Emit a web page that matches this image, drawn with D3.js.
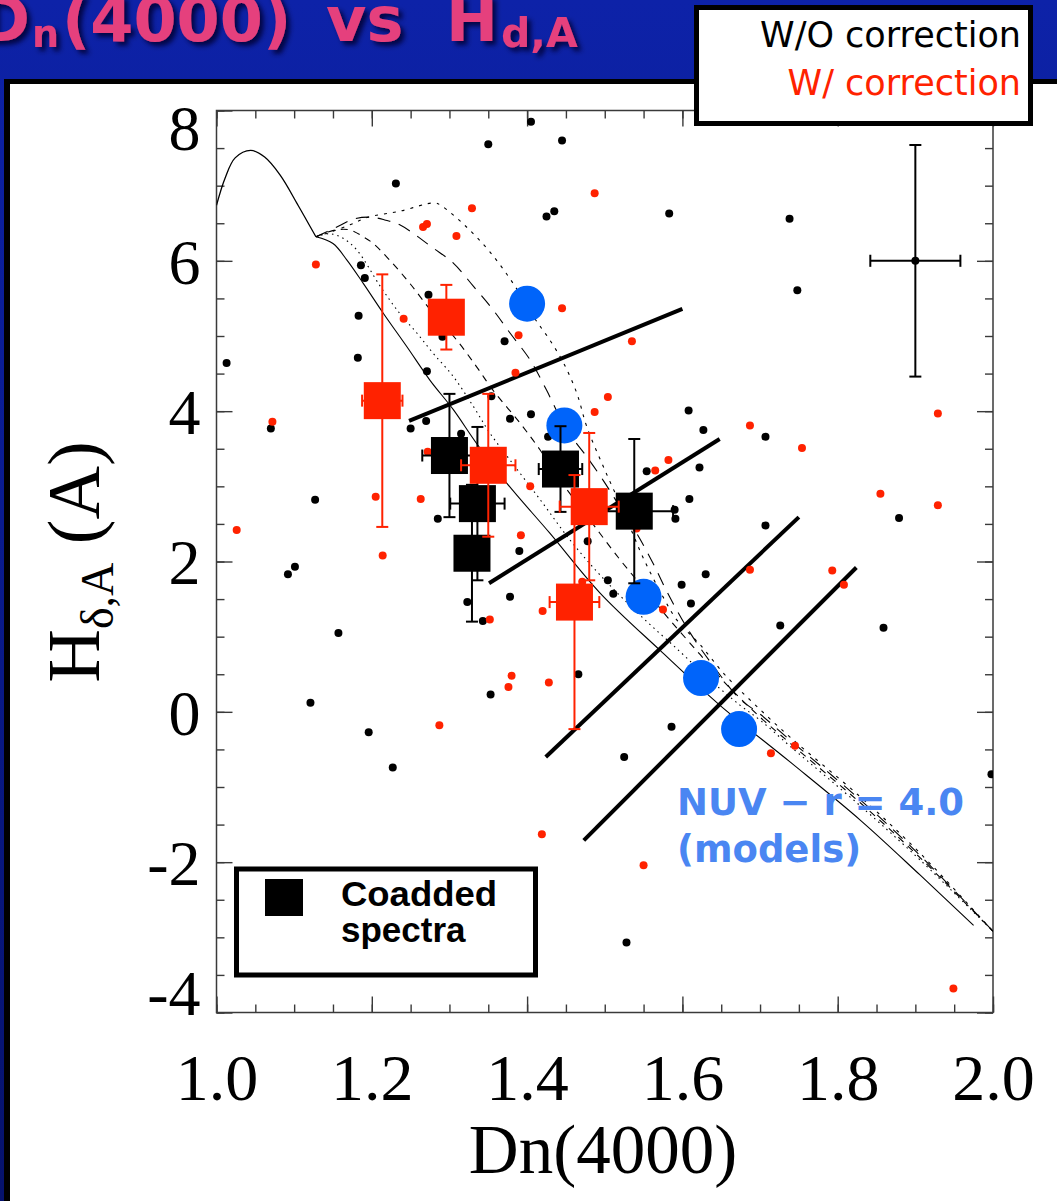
<!DOCTYPE html>
<html><head><meta charset="utf-8">
<script src="https://cdn.jsdelivr.net/npm/d3@7"></script>
<style>html,body{margin:0;padding:0;overflow:hidden;background:#0a1c9a}</style>
</head><body><svg id="c" width="1057" height="1201"></svg>
<script>
// ---------------- DATA ----------------
const xMajorTicks = [1.0, 1.2, 1.4, 1.6, 1.8, 2.0];
const yMajorTicks = [-4, -2, 0, 2, 4, 6, 8];

// individual galaxies, without correction (black)
const blackPoints = [
 [1.405,7.85],[1.350,7.55],[1.445,7.60],[1.231,7.03],[1.425,6.59],[1.435,6.66],[1.583,6.63],[1.738,6.56],
 [1.748,5.61],[1.186,5.94],[1.191,5.77],[1.273,5.55],[1.183,5.27],[1.291,4.99],[1.371,4.93],[1.013,4.64],
 [1.182,4.71],[1.271,4.53],[1.354,4.20],[1.070,3.77],[1.250,3.77],[1.270,3.87],[1.378,3.90],[1.405,3.96],
 [1.427,3.66],[1.315,3.70],[1.608,4.01],[1.627,3.75],[1.707,3.66],[1.127,2.82],[1.285,2.57],[1.478,2.27],
 [1.390,2.14],[1.101,1.93],[1.092,1.83],[1.378,1.53],[1.323,1.46],[1.343,1.21],[1.157,1.05],[1.466,0.50],
 [1.353,0.23],[1.121,0.12],[1.196,-0.27],[1.227,-0.74],[1.622,3.25],[1.554,3.20],[1.609,2.83],[1.590,2.69],
 [1.591,2.57],[1.707,2.48],[1.879,2.58],[1.630,1.83],[1.504,1.75],[1.599,1.69],[1.511,1.57],[1.611,1.44],
 [1.726,1.15],[1.859,1.12],[1.586,-0.20],[1.525,-0.60],[1.998,-0.83],[1.528,-3.07]
];
// individual galaxies, with correction (red)
const redPoints = [
 [1.487,6.90],[1.329,6.70],[1.266,6.45],[1.271,6.49],[1.309,6.33],[1.128,5.95],[1.241,5.23],[1.445,5.37],
 [1.389,5.01],[1.385,4.51],[1.072,3.86],[1.487,3.99],[1.535,4.93],[1.504,4.19],[1.687,3.81],[1.929,3.97],
 [1.754,3.51],[1.272,3.46],[1.205,2.86],[1.263,2.83],[1.404,3.00],[1.026,2.42],[1.392,2.35],[1.214,2.08],
 [1.471,1.73],[1.420,1.34],[1.352,1.23],[1.380,0.48],[1.376,0.33],[1.428,0.39],[1.287,-0.18],[1.582,3.35],
 [1.565,3.21],[1.855,2.90],[1.929,2.75],[1.541,2.44],[1.687,1.89],[1.793,1.88],[1.808,1.69],[1.575,1.36],
 [1.745,-0.45],[1.714,-0.55],[1.419,-1.63],[1.550,-2.04],[1.949,-3.68]
];
// NUV - r = 4.0 model points (blue)
const modelColourPoints = [[1.400,5.43],[1.448,3.81],[1.550,1.53],[1.624,0.45],[1.673,-0.23]];

// coadded spectra
const coaddBlack = [
 {dn:1.300, h:3.41, dnErr:0.035, hErr:0.82},
 {dn:1.336, h:2.77, dnErr:0.035, hErr:1.02},
 {dn:1.329, h:2.11, dnErr:0.020, hErr:0.91},
 {dn:1.443, h:3.23, dnErr:0.028, hErr:0.57},
 {dn:1.538, h:2.67, dnErr:0.050, hErr:0.96}
];
const coaddRed = [
 {dn:1.296, h:5.25, dnErr:0.015, hErr:0.43},
 {dn:1.2135,h:4.14, dnErr:0.026, hErr:1.68},
 {dn:1.350, h:3.28, dnErr:0.035, hErr:0.95},
 {dn:1.480, h:2.73, dnErr:0.038, hErr:0.98},
 {dn:1.461, h:1.46, dnErr:0.032, hErr:1.69}
];
// typical error bar
const typicalError = {dn:1.90, h:6.00, dnErr:0.058, hErr:1.54};

// thick lines of constant colour
const colourLines = [
 [[1.248,3.87],[1.600,5.36]],
 [[1.351,1.71],[1.648,3.63]],
 [[1.424,-0.60],[1.750,2.59]],
 [[1.473,-1.71],[1.824,1.92]]
];

// model tracks
const trackSSPYoung = [[1.000,6.74],[1.011,7.10],[1.024,7.37],[1.044,7.47],[1.062,7.38],[1.082,7.14],[1.105,6.74],[1.128,6.32]];
const trackSSP = [[1.128,6.32],[1.150,6.23],[1.168,6.01],[1.189,5.70],[1.215,5.30],[1.245,4.86],[1.275,4.41],[1.305,4.02],
 [1.335,3.57],[1.374,3.04],[1.429,2.38],[1.494,1.58],[1.571,0.82],[1.648,0.09],[1.739,-0.67],[1.829,-1.44],[1.906,-2.17],[1.975,-2.84]];
const trackA = [[1.128,6.32],[1.146,6.36],[1.163,6.30],[1.181,6.14],[1.211,5.66],[1.236,5.30],[1.258,5.04],[1.279,4.77],
 [1.305,4.46],[1.331,4.06],[1.352,3.71],[1.378,3.35],[1.417,2.82],[1.455,2.29],[1.494,1.82],[1.545,1.29],[1.597,0.80],
 [1.636,0.42],[1.674,0.09],[1.700,-0.11],[1.739,-0.46],[1.829,-1.25],[1.906,-1.97],[2.000,-2.92]];
const trackB = [[1.128,6.32],[1.153,6.41],[1.172,6.41],[1.189,6.32],[1.202,6.23],[1.223,6.01],[1.249,5.70],[1.279,5.30],
 [1.309,4.95],[1.335,4.59],[1.356,4.28],[1.391,3.84],[1.417,3.48],[1.442,3.09],[1.481,2.55],[1.520,2.02],[1.552,1.62],
 [1.584,1.22],[1.623,0.76],[1.660,0.33],[1.700,-0.07],[1.739,-0.42],[1.829,-1.21],[1.906,-1.94],[2.000,-2.92]];
const trackC = [[1.128,6.32],[1.153,6.44],[1.178,6.56],[1.200,6.58],[1.218,6.54],[1.236,6.48],[1.279,6.17],[1.305,5.97],
 [1.331,5.66],[1.356,5.35],[1.378,5.04],[1.404,4.68],[1.425,4.28],[1.451,3.75],[1.475,3.42],[1.498,3.08],[1.520,2.72],
 [1.542,2.36],[1.562,1.98],[1.582,1.56],[1.610,1.05],[1.642,0.58],[1.674,0.17],[1.700,-0.03],[1.739,-0.38],[1.829,-1.17],
 [1.906,-1.91],[2.000,-2.92]];
const trackD = [[1.128,6.32],[1.146,6.38],[1.172,6.48],[1.195,6.58],[1.236,6.66],[1.281,6.77],[1.290,6.73],[1.322,6.45],
 [1.352,6.12],[1.382,5.70],[1.408,5.26],[1.429,4.95],[1.447,4.64],[1.464,4.24],[1.477,3.79],[1.500,3.22],[1.526,2.62],
 [1.549,2.06],[1.575,1.53],[1.593,1.22],[1.623,0.89],[1.655,0.49],[1.690,0.13],[1.739,-0.34],[1.829,-1.13],[1.906,-1.88],[2.000,-2.92]];

// ---------------- DRAWING ----------------
const W = 1057, H = 1201;
const svg = d3.select('#c');
const defs = svg.append('defs');
const bg = defs.append('linearGradient').attr('id','bg').attr('x1',0).attr('y1',0).attr('x2',0).attr('y2',1);
bg.append('stop').attr('offset','0%').attr('stop-color','#0d22a8');
bg.append('stop').attr('offset','100%').attr('stop-color','#06126c');
const flt = defs.append('filter').attr('id','sh').attr('x','-20%').attr('y','-50%').attr('width','150%').attr('height','200%');
flt.append('feDropShadow').attr('dx',4).attr('dy',4).attr('stdDeviation',2.5).attr('flood-color','#000030').attr('flood-opacity',0.85);

svg.append('rect').attr('width',W).attr('height',H).attr('fill','url(#bg)');
svg.append('rect').attr('x',4).attr('y',79).attr('width',W).attr('height',H).attr('fill','#000');
svg.append('rect').attr('x',10).attr('y',84).attr('width',W).attr('height',H).attr('fill','#fff');

// title
const pink = '#e5407d';
const tg = svg.append('g').attr('filter','url(#sh)').attr('fill',pink)
  .style('font-family','"DejaVu Sans", Verdana, sans-serif').style('font-weight','bold');
tg.append('text').attr('x',30).attr('y',41).attr('text-anchor','end').style('font-size','62px').text('D');
tg.append('text').attr('x',32).attr('y',47).style('font-size','38px').text('n');
tg.append('text').attr('x',62).attr('y',41).style('font-size','62px').text('(4000)');
tg.append('text').attr('x',326).attr('y',41).style('font-size','62px').text('vs');
tg.append('text').attr('x',446).attr('y',41).style('font-size','62px').text('H');
tg.append('text').attr('x',501).attr('y',47).style('font-size','41px').text('d,A');

// scales
const x = d3.scaleLinear().domain([1,2]).range([216.5,993]);
const y = d3.scaleLinear().domain([-4,8]).range([1012.5,110.5]);
const minorX = d3.range(0,21).map(i=>+(1+i*0.05).toFixed(2));
const minorY = d3.range(0,25).map(i=>-4+i*0.5);

defs.append('clipPath').attr('id','clip').append('rect')
  .attr('x',x(1)).attr('y',y(8)).attr('width',x(2)-x(1)).attr('height',y(-4)-y(8));

const axCol = '#3a3a3a';
function tickAxis(axisFn, tx, ty, vals, size){
  const g = svg.append('g').attr('transform',`translate(${tx},${ty})`)
    .call(axisFn.tickValues(vals).tickSize(size).tickFormat(''));
  g.select('.domain').remove();
  g.selectAll('line').attr('stroke',axCol).attr('stroke-width',1.4);
}
tickAxis(d3.axisTop(x), 0, y(-4), minorX, 8);
tickAxis(d3.axisTop(x), 0, y(-4), xMajorTicks, 16);
tickAxis(d3.axisBottom(x), 0, y(8), minorX, 8);
tickAxis(d3.axisBottom(x), 0, y(8), xMajorTicks, 16);
tickAxis(d3.axisRight(y), x(1), 0, minorY, 8);
tickAxis(d3.axisRight(y), x(1), 0, yMajorTicks, 16);
tickAxis(d3.axisLeft(y), x(2), 0, minorY, 8);
tickAxis(d3.axisLeft(y), x(2), 0, yMajorTicks, 16);
svg.append('rect').attr('x',x(1)).attr('y',y(8)).attr('width',x(2)-x(1)).attr('height',y(-4)-y(8))
  .attr('fill','none').attr('stroke',axCol).attr('stroke-width',1.5);

// tick labels
const serif = '"Liberation Serif", "Times New Roman", serif';
const xl = svg.append('g').attr('transform',`translate(0,${y(-4)})`)
  .call(d3.axisBottom(x).tickValues(xMajorTicks).tickSize(0).tickPadding(41).tickFormat(d3.format('.1f')));
xl.select('.domain').remove();
xl.selectAll('text').style('font-family',serif).style('font-size','66px').attr('fill','#000');
const yl = svg.append('g').attr('transform',`translate(${x(1)},0)`)
  .call(d3.axisLeft(y).tickValues(yMajorTicks).tickSize(0).tickPadding(16).tickFormat(d=> d<0 ? '-'+(-d) : String(d)));
yl.select('.domain').remove();
yl.selectAll('text').style('font-family',serif).style('font-size','64px').attr('fill','#000')
  .attr('y', d=> d===8 ? 19 : (d===-4 ? -18 : 2));

// axis titles
svg.append('text').attr('x',603).attr('y',1173).attr('text-anchor','middle')
  .style('font-family',serif).style('font-size','69px').text('Dn(4000)');
const yt = svg.append('text').attr('transform','translate(99,562) rotate(-90)').attr('text-anchor','middle')
  .style('font-family',serif).style('font-size','74px');
yt.append('tspan').text('H');
yt.append('tspan').attr('dy',14).style('font-size','46px').text('δ,A');
yt.append('tspan').attr('dy',-14).text(' (A)');

// plot content
const plot = svg.append('g').attr('clip-path','url(#clip)');
const line = d3.line().x(d=>x(d[0])).y(d=>y(d[1])).curve(d3.curveCatmullRom.alpha(0.5));
const tracks = [
  {pts:trackSSPYoung, dash:null, w:1.3},
  {pts:trackSSP, dash:null, w:1.1},
  {pts:trackA, dash:'1.5,4', w:1.1},
  {pts:trackB, dash:'7,6', w:1.1},
  {pts:trackC, dash:'13,9', w:1.1},
  {pts:trackD, dash:'3,6', w:1.1}
];
tracks.forEach(t=>{
  plot.append('path').attr('d',line(t.pts)).attr('fill','none').attr('stroke','#000')
    .attr('stroke-width',t.w).attr('stroke-dasharray',t.dash);
});
colourLines.forEach(l=>{
  plot.append('line').attr('x1',x(l[0][0])).attr('y1',y(l[0][1])).attr('x2',x(l[1][0])).attr('y2',y(l[1][1]))
    .attr('stroke','#000').attr('stroke-width',4);
});
plot.selectAll('.bd').data(blackPoints).join('circle').attr('cx',d=>x(d[0])).attr('cy',d=>y(d[1])).attr('r',4).attr('fill','#000');
plot.selectAll('.rd').data(redPoints).join('circle').attr('cx',d=>x(d[0])).attr('cy',d=>y(d[1])).attr('r',4).attr('fill','#ff2200');
plot.selectAll('.bl').data(modelColourPoints).join('circle').attr('cx',d=>x(d[0])).attr('cy',d=>y(d[1])).attr('r',18).attr('fill','#0064fa');

function errBars(data, col, cap, sw){
  const g = plot.append('g').attr('stroke',col).attr('stroke-width',sw);
  data.forEach(d=>{
    const cx=x(d.dn), cy=y(d.h);
    const y0=y(d.h-d.hErr), y1=y(d.h+d.hErr), x0=x(d.dn-d.dnErr), x1=x(d.dn+d.dnErr);
    g.append('line').attr('x1',cx).attr('x2',cx).attr('y1',y0).attr('y2',y1);
    g.append('line').attr('x1',cx-cap).attr('x2',cx+cap).attr('y1',y0).attr('y2',y0);
    g.append('line').attr('x1',cx-cap).attr('x2',cx+cap).attr('y1',y1).attr('y2',y1);
    g.append('line').attr('x1',x0).attr('x2',x1).attr('y1',cy).attr('y2',cy);
    g.append('line').attr('x1',x0).attr('x2',x0).attr('y1',cy-cap).attr('y2',cy+cap);
    g.append('line').attr('x1',x1).attr('x2',x1).attr('y1',cy-cap).attr('y2',cy+cap);
  });
}
function squares(data, col){
  plot.append('g').selectAll('rect').data(data).join('rect')
    .attr('x',d=>x(d.dn)-18.5).attr('y',d=>y(d.h)-18.5).attr('width',37).attr('height',37).attr('fill',col);
}
errBars(coaddBlack,'#000',6,2);
squares(coaddBlack,'#000');
errBars(coaddRed,'#ff2200',6,2);
squares(coaddRed,'#ff2200');
errBars([typicalError],'#000',6,2);
plot.append('circle').attr('cx',x(typicalError.dn)).attr('cy',y(typicalError.h)).attr('r',4).attr('fill','#000');

// NUV text
const nuv = svg.append('g').attr('fill','#4a86f2').style('font-family','"DejaVu Sans", Verdana, sans-serif')
  .style('font-weight','bold').style('font-size','37px');
nuv.append('text').attr('x',677).attr('y',815).text('NUV − r = 4.0');
nuv.append('text').attr('x',677).attr('y',862).text('(models)');

// Coadded legend box
svg.append('rect').attr('x',236.5).attr('y',869).attr('width',299).attr('height',106)
  .attr('fill','#fff').attr('stroke','#000').attr('stroke-width',5);
svg.append('rect').attr('x',265).attr('y',879).attr('width',38).attr('height',37).attr('fill','#000');
const lt = svg.append('g').style('font-family','"Liberation Sans", Arial, sans-serif').style('font-weight','bold').style('font-size','35px');
lt.append('text').attr('x',341).attr('y',906).attr('textLength',156).attr('lengthAdjust','spacingAndGlyphs').text('Coadded');
lt.append('text').attr('x',341).attr('y',942).text('spectra');

// correction legend box
svg.append('rect').attr('x',696.5).attr('y',7.5).attr('width',334).attr('height',116)
  .attr('fill','#fff').attr('stroke','#000').attr('stroke-width',5);
const ct = svg.append('g').style('font-family','"DejaVu Sans", Verdana, sans-serif').style('font-size','35px').attr('text-anchor','end');
ct.append('text').attr('x',1021).attr('y',47).attr('fill','#000').text('W/O correction');
ct.append('text').attr('x',1021).attr('y',95).attr('fill','#ff2200').text('W/ correction');
</script></body></html>
